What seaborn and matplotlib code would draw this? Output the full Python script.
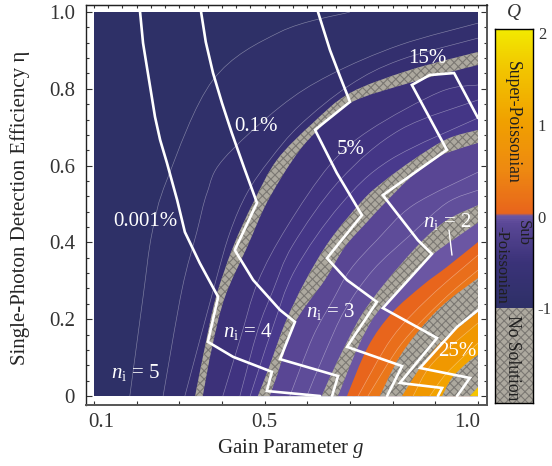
import numpy as np
import seaborn as sns
import matplotlib
matplotlib.use("Agg")
import matplotlib.pyplot as plt
from matplotlib.colors import LinearSegmentedColormap
from matplotlib.patches import PathPatch
from matplotlib.path import Path
from matplotlib.transforms import ScaledTranslation

# band edges, each as (g, eta)
c1_g = [.184, .215, .236, .271, .379, .536, .700]
c1_e = [0, .258, .424, .563, .823, .948, 1.0]
c2_g = [.262, .306, .341, .365, .402, .536, .653, .817, 1.0]
c2_e = [0, .276, .427, .529, .615, .753, .836, .914, .971]
c3_g = [.313, .384, .419, .459, .512, .583, .700, .817, 1.0]
c3_e = [0, .294, .427, .529, .615, .706, .810, .875, .932]
b1u_g = [.337, .360, .386, .426, .473, .529, .613, .700, .841, 1.0]
b1u_e = [0, .128, .258, .388, .503, .615, .711, .789, .849, .896]
b1l_g = [.355, .377, .407, .459, .505, .566, .618, .700, .848, 1.0]
b1l_e = [0, .128, .258, .388, .503, .615, .685, .763, .818, .862]
c4_g = [.402, .442, .484, .552, .653, .747, .911, 1.0]
c4_e = [0, .146, .297, .440, .602, .693, .792, .810]
c5_g = [.442, .484, .520, .566, .677, .817, 1.0]
c5_e = [0, .172, .276, .393, .563, .693, .771]
c6_g = [.466, .517, .571, .677, .794, 1.0]
c6_e = [0, .172, .328, .497, .615, .724]
b2u_g = [.484, .508, .548, .594, .653, .730, .777, .848, .927, 1.0]
b2u_e = [0, .068, .190, .297, .406, .510, .557, .615, .669, .693]
b2l_g = [.512, .531, .571, .641, .688, .740, .782, .841, .899, .927, 1.0]
b2l_e = [0, .060, .190, .302, .388, .453, .503, .568, .615, .633, .659]
c7_g = [.559, .613, .660, .700, .763, .848, 1.0]
c7_e = [0, .154, .250, .328, .406, .497, .583]
c8_g = [.599, .641, .688, .754, .841, .927, 1.0]
c8_e = [0, .112, .224, .328, .419, .503, .536]
b3u_g = [.634, .653, .693, .730, .782, .864, .927, 1.0]
b3u_e = [0, .049, .141, .216, .294, .398, .458, .497]
b3l_g = [.672, .719, .763, .829, .887, .951, 1.0]
b3l_e = [0, .128, .216, .294, .362, .414, .451]
ou_g = [.693, .742, .798, .871, .927, 1.0]
ou_e = [0, .128, .216, .289, .336, .401]
o1_g = [.719, .798, .887, 1.0]
o1_e = [0, .151, .258, .367]
o2_g = [.742, .822, .918, 1.0]
o2_e = [0, .138, .250, .328]
ol_g = [.770, .812, .857, .918, 1.0]
ol_e = [0, .094, .164, .237, .307]
b4l_g = [.822, .864, .911, .962, 1.0]
b4l_e = [0, .073, .138, .185, .219]
y1_g = [.848, .894, 1.0]
y1_e = [0, .086, .190]
y2_g = [.887, .927, 1.0]
y2_e = [0, .060, .138]
yl_g = [.916, .939, .974, 1.0]
yl_e = [0, .047, .086, .107]
b5l_g = [.981, 1.0]
b5l_e = [0, .023]

# white threshold curves
l1_g = [.208, .215, .224, .234, .243, .255, .271, .295, .313, .348, .391, .367, .426, .517, .505, .630]
l1_e = [1.0, .919, .857, .789, .727, .667, .607, .510, .427, .346, .258, .141, .102, .063, .013, 0]
l2_g = [.351, .362, .379, .400, .423, .452, .482, .430, .473, .536, .571, .536, .672, .658]
l2_e = [1.0, .922, .841, .763, .685, .594, .503, .380, .302, .224, .193, .096, .052, 0]
l3_g = [.625, .653, .677, .700, .618, .669, .728, .646, .693, .763, .693, .822, .787]
l3_e = [1.0, .901, .831, .766, .693, .581, .471, .359, .302, .245, .128, .078, 0]
l4_g = [1.0, .944, .887, .845, .927, .777, .859, .892, .777, .904, .817, .916, .906]
l4_e = [.724, .841, .836, .810, .641, .523, .406, .370, .229, .151, .034, .021, 0]
l5_g = [1.0, .951, .864, .981, .951]
l5_e = [.224, .180, .073, .047, 0]
pointer_g = [.932, .939]
pointer_e = [.432, .367]

x_ticks = [0.1, 0.5, 1.0]
y_ticks = [0, 0.2, 0.4, 0.6, 0.8, 1.0]
q_ticks = [-1, 0, 1, 2]
q_labels = ["-1", "0", "1", "2"]

GRAY = "#ada99f"
HATCH = "#7b7873"
TICK = 15

sns.set_style("ticks")
plt.rcParams["font.family"] = ["Liberation Serif", "DejaVu Serif"]
plt.rcParams["mathtext.fontset"] = "custom"
plt.rcParams["mathtext.rm"] = "Liberation Serif"
plt.rcParams["mathtext.it"] = "Liberation Serif:italic"
plt.rcParams["hatch.linewidth"] = 0.8
plt.rcParams["text.color"] = "#333333"
plt.rcParams["xtick.color"] = "#333333"
plt.rcParams["ytick.color"] = "#333333"

fig = plt.figure(figsize=(5.52, 4.66), dpi=100)
ax = fig.add_axes([86 / 552, 61 / 466, 401 / 552, 400 / 466])
bar = fig.add_axes([495 / 552, 63 / 466, 38 / 552, 374 / 466])

ax.fill([0.1, 1.0, 1.0, 0.1], [0, 0, 1, 1], color="#2e3067", lw=0, zorder=1)


def smooth_verts(g, e):
    # catmull-rom handles, so the read points join up as a curve
    p = np.column_stack([g, e])
    verts = [p[0]]
    for i in range(len(p) - 1):
        a = p[max(i - 1, 0)]
        d = p[min(i + 2, len(p) - 1)]
        verts += [p[i] + (p[i + 1] - a) / 6, p[i + 1] - (d - p[i]) / 6, p[i + 1]]
    return verts


def beyond(g, e, color, z, hatch=None, line=False):
    # paint everything to the right of / below the curve
    verts = smooth_verts(g, e)
    codes = [Path.MOVETO] + [Path.CURVE4] * (len(verts) - 1)
    shape = Path(verts + [(1.0, e[-1]), (1.0, 0.0), verts[0]],
                 codes + [Path.LINETO, Path.LINETO, Path.CLOSEPOLY])
    if hatch:
        ax.add_patch(PathPatch(shape, facecolor=color, edgecolor=HATCH, hatch=hatch, lw=0, zorder=z))
    else:
        ax.add_patch(PathPatch(shape, facecolor=color, edgecolor="none", lw=0, zorder=z))
    if line:
        ax.add_patch(PathPatch(Path(verts, codes), fill=False, edgecolor="white", alpha=0.4,
                               lw=0.45, zorder=z + 0.5))


layers = [
    (c1_g, c1_e, "#30306a", None, True),
    (c2_g, c2_e, "#332f6e", None, True),
    (c3_g, c3_e, "#362f72", None, True),
    (b1u_g, b1u_e, GRAY, "xxxx", False),
    (b1l_g, b1l_e, "#3c3179", None, False),
    (c4_g, c4_e, "#403380", None, True),
    (c5_g, c5_e, "#443686", None, True),
    (c6_g, c6_e, "#493a8d", None, True),
    (b2u_g, b2u_e, GRAY, "xxxx", False),
    (b2l_g, b2l_e, "#594694", None, False),
    (c7_g, c7_e, "#5e4c99", None, True),
    (c8_g, c8_e, "#614f9b", None, True),
    (b3u_g, b3u_e, GRAY, "xxxx", False),
    (b3l_g, b3l_e, "#6b56a3", None, False),
    (ou_g, ou_e, "#e8651c", None, False),
    (o1_g, o1_e, "#e96e1b", None, True),
    (o2_g, o2_e, "#ea771a", None, True),
    (ol_g, ol_e, GRAY, "xxxx", False),
    (b4l_g, b4l_e, "#ee8f0c", None, False),
    (y1_g, y1_e, "#f09800", None, True),
    (y2_g, y2_e, "#f2a300", None, True),
    (yl_g, yl_e, GRAY, "xxxx", False),
    (b5l_g, b5l_e, "#f5c400", None, False),
]
for i, (g, e, color, hatch, line) in enumerate(layers):
    beyond(g, e, color, 2 + i, hatch, line)

for g, e in [(l1_g, l1_e), (l2_g, l2_e), (l3_g, l3_e), (l4_g, l4_e), (l5_g, l5_e)]:
    sns.lineplot(x=g, y=e, sort=False, estimator=None, color="white", linewidth=1.9,
                 solid_joinstyle="miter", zorder=40, ax=ax, legend=False)
sns.lineplot(x=pointer_g, y=pointer_e, sort=False, estimator=None, color="white",
             linewidth=1.0, zorder=40, ax=ax, legend=False)

labels = [
    ("0.001%", .220, .455), ("0.1%", .480, .702), ("5%", .701, .643),
    ("15%", .881, .878), ("25%", .951, .115),
    (r"$n_{\mathrm{i}}$ = 5", .197, .060), (r"$n_{\mathrm{i}}$ = 4", .461, .167),
    (r"$n_{\mathrm{i}}$ = 3", .653, .219), (r"$n_{\mathrm{i}}$ = 2", .927, .455),
]
for txt, gx, ey in labels:
    ax.text(gx, ey, txt, color="white", fontsize=TICK, ha="center", va="center", zorder=50)

ax.set_xlim(0.0813, 1.0211)
ax.set_ylim(-0.0234, 1.0182)
ax.set_xticks(x_ticks)
ax.set_xticklabels(["0.1", "0.5", "1.0"], fontsize=TICK)
ax.set_xticks([0.2, 0.3, 0.4, 0.6, 0.7, 0.8, 0.9], minor=True)
ax.set_yticks(y_ticks)
ax.set_yticklabels(["0", "0.2", "0.4", "0.6", "0.8", "1.0"], fontsize=TICK)
ax.set_yticks(np.arange(0, 1.01, 0.04), minor=True)
ax.tick_params(axis="x", which="both", direction="in", length=3, width=0.8, pad=6)
ax.tick_params(axis="y", which="major", direction="in", length=4.5, width=0.8, right=True, pad=8)
ax.tick_params(axis="y", which="minor", direction="in", length=2.5, width=0.8, right=True)

top = ax.secondary_xaxis("top")
top.set_xticks(np.arange(0.1, 1.01, 0.1))
top.set_xticks(np.arange(0.1, 1.01, 0.1 / 3), minor=True)
top.set_xticklabels([])
top.tick_params(which="both", direction="in", length=2.5, width=0.8)

for lab, dx in zip(ax.get_xticklabels(), [7, 0, -11]):
    lab.set_transform(lab.get_transform() + ScaledTranslation(dx / 100, 0, fig.dpi_scale_trans))

ax.set_xlabel("Gain Parameter $g$", fontsize=TICK, va="center")
ax.set_ylabel("Single-Photon Detection Efficiency η", fontsize=TICK, va="center")
ax.xaxis.set_label_coords(0.511, -0.11)
ax.yaxis.set_label_coords(-0.165, 0.4925)

for side in ["left", "top"]:
    ax.spines[side].set_visible(True)
    ax.spines[side].set_color("#222222")
    ax.spines[side].set_linewidth(1.0)
for side in ["right", "bottom"]:
    ax.spines[side].set_visible(True)
    ax.spines[side].set_color("#555555")
    ax.spines[side].set_linewidth(1.4)

# colour key
q_cmap = LinearSegmentedColormap.from_list("q", [
    (0.0, "#2e3067"), (0.16, "#3a3278"), (0.3, "#5a4796"), (0.328, "#6b56a3"),
    (0.338, "#e8641c"), (0.5, "#ee8a10"), (0.667, "#f0a000"), (0.85, "#f2c400"), (1.0, "#f2ea00"),
])
q_scale = np.linspace(-1, 2, 400)
bar.pcolormesh([0, 1], q_scale, np.c_[q_scale[:-1]], cmap=q_cmap, vmin=-1, vmax=2, rasterized=True)
bar.fill([0, 1, 1, 0], [-2.02, -2.02, -1, -1], facecolor=GRAY, edgecolor=HATCH, hatch="xxxx", lw=0)
bar.set_xlim(0, 1)
bar.set_ylim(-2.02, 2)
bar.set_xticks([])
bar.set_yticks(q_ticks)
bar.set_yticklabels(q_labels, fontsize=12)
bar.tick_params(axis="y", direction="in", length=3, width=0.8, left=True, right=True,
                labelleft=False, labelright=True, pad=3.5)
for lab, dy in zip(bar.get_yticklabels(which="major"), [0, -2, -3, -4]):
    lab.set_transform(lab.get_transform() + ScaledTranslation(0, dy / 100, fig.dpi_scale_trans))
for side in bar.spines:
    bar.spines[side].set_visible(True)
    bar.spines[side].set_color("black")
    bar.spines[side].set_linewidth(1.0)
bar.set_title("$Q$", fontsize=14, pad=9)
DARK = "#1f1f1f"
bar.text(0.47, 1.0, "Super-Poissonian", rotation=270, fontsize=12.7, ha="center", va="center", color=DARK)
bar.text(0.74, -0.19, "Sub", rotation=270, fontsize=12, ha="center", va="center", color=DARK)
bar.text(0.18, -0.53, "-Poissonian", rotation=270, fontsize=12, ha="center", va="center", color=DARK)
bar.text(0.47, -1.53, "No Solution", rotation=270, fontsize=12.7, ha="center", va="center", color=DARK)

fig.savefig("out.png", dpi=100)
